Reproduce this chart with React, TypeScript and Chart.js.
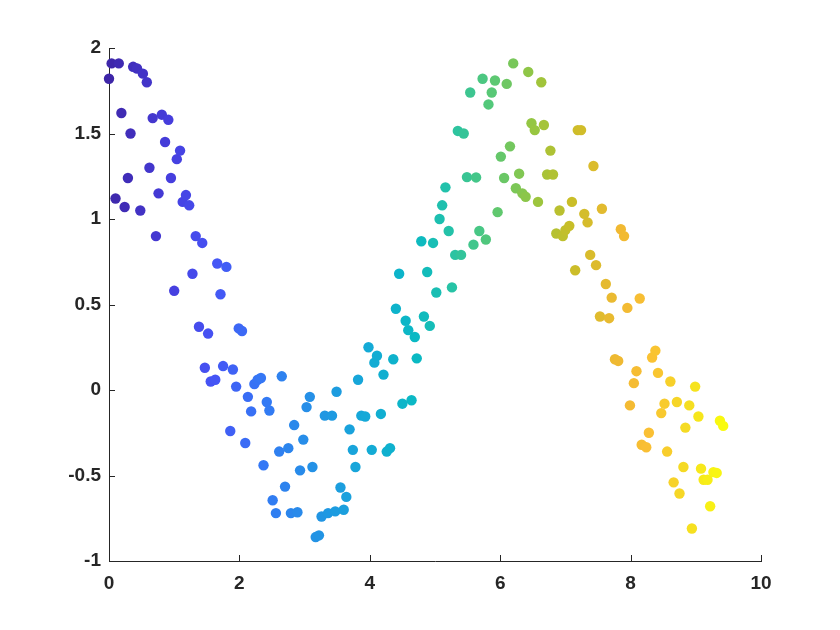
import React, { useEffect, useRef } from "react";
import { Chart, registerables } from "chart.js";

Chart.register(...registerables);

const xValues: number[] = [
  0.0, 0.04, 0.1, 0.15, 0.19, 0.24, 0.29, 0.33, 0.37, 0.43,
  0.48, 0.52, 0.58, 0.62, 0.67, 0.72, 0.76, 0.81, 0.86, 0.91,
  0.95, 1.0, 1.04, 1.09, 1.13, 1.18, 1.23, 1.28, 1.33, 1.38,
  1.43, 1.47, 1.52, 1.56, 1.63, 1.66, 1.71, 1.75, 1.8, 1.86,
  1.9, 1.95, 1.99, 2.04, 2.09, 2.13, 2.18, 2.23, 2.28, 2.33,
  2.37, 2.42, 2.46, 2.51, 2.56, 2.61, 2.65, 2.7, 2.75, 2.79,
  2.84, 2.89, 2.93, 2.98, 3.03, 3.08, 3.12, 3.17, 3.22, 3.26,
  3.31, 3.36, 3.42, 3.47, 3.49, 3.55, 3.6, 3.64, 3.69, 3.74,
  3.78, 3.82, 3.87, 3.93, 3.98, 4.03, 4.07, 4.11, 4.17, 4.21,
  4.26, 4.31, 4.36, 4.4, 4.45, 4.5, 4.55, 4.59, 4.64, 4.69,
  4.72, 4.79, 4.83, 4.88, 4.92, 4.97, 5.02, 5.07, 5.11, 5.16,
  5.21, 5.26, 5.31, 5.35, 5.4, 5.44, 5.49, 5.54, 5.59, 5.63,
  5.68, 5.73, 5.78, 5.82, 5.87, 5.92, 5.96, 6.01, 6.06, 6.1,
  6.15, 6.2, 6.24, 6.29, 6.34, 6.39, 6.43, 6.48, 6.53, 6.58,
  6.63, 6.67, 6.72, 6.77, 6.81, 6.86, 6.91, 6.96, 7.0, 7.06,
  7.1, 7.15, 7.19, 7.24, 7.29, 7.34, 7.38, 7.43, 7.47, 7.53,
  7.56, 7.62, 7.67, 7.71, 7.76, 7.81, 7.85, 7.9, 7.95, 7.99,
  8.05, 8.09, 8.14, 8.17, 8.24, 8.28, 8.33, 8.38, 8.42, 8.47,
  8.52, 8.56, 8.61, 8.66, 8.71, 8.75, 8.81, 8.84, 8.9, 8.94,
  8.99, 9.04, 9.08, 9.12, 9.18, 9.22, 9.27, 9.32, 9.37, 9.42,
];

const yValues: number[] = [
  1.82, 1.91, 1.12, 1.91, 1.62, 1.07, 1.24, 1.5, 1.89, 1.88,
  1.05, 1.85, 1.8, 1.3, 1.59, 0.9, 1.15, 1.61, 1.45, 1.58,
  1.24, 0.58, 1.35, 1.4, 1.1, 1.14, 1.08, 0.68, 0.9, 0.37,
  0.86, 0.13, 0.33, 0.05, 0.06, 0.74, 0.56, 0.14, 0.72, -0.24,
  0.12, 0.02, 0.36, 0.345, -0.31, -0.04, -0.125, 0.035, 0.06, 0.07,
  -0.44, -0.07, -0.12, -0.645, -0.72, -0.36, 0.08, -0.565, -0.34, -0.72,
  -0.205, -0.715, -0.47, -0.29, -0.1, -0.04, -0.45, -0.86, -0.85, -0.74,
  -0.15, -0.72, -0.15, -0.71, -0.01, -0.57, -0.7, -0.625, -0.23, -0.35,
  -0.45, 0.06, -0.15, -0.155, 0.25, -0.35, 0.16, 0.2, -0.14, 0.09,
  -0.36, -0.34, 0.18, 0.475, 0.68, -0.08, 0.405, 0.35, -0.06, 0.31,
  0.185, 0.87, 0.43, 0.69, 0.375, 0.86, 0.57, 1.0, 1.08, 1.185,
  0.93, 0.6, 0.79, 1.515, 0.79, 1.5, 1.245, 1.74, 0.85, 1.243,
  0.93, 1.82, 0.88, 1.67, 1.74, 1.81, 1.04, 1.365, 1.24, 1.79,
  1.425, 1.91, 1.18, 1.265, 1.15, 1.13, 1.86, 1.56, 1.52, 1.1,
  1.8, 1.55, 1.26, 1.4, 1.26, 0.915, 1.05, 0.9, 0.935, 0.96,
  1.1, 0.7, 1.52, 1.52, 1.03, 0.98, 0.79, 1.31, 0.73, 0.43,
  1.06, 0.62, 0.42, 0.54, 0.18, 0.17, 0.94, 0.9, 0.48, -0.09,
  0.04, 0.11, 0.535, -0.32, -0.335, -0.25, 0.19, 0.23, 0.1, -0.135,
  -0.08, -0.36, 0.05, -0.54, -0.07, -0.605, -0.45, -0.22, -0.09, -0.81,
  0.02, -0.155, -0.46, -0.525, -0.525, -0.68, -0.48, -0.485, -0.18, -0.21,
];

const xTicks: number[] = [0, 2, 4, 6, 8, 10];
const yTicks: number[] = [-1, -0.5, 0, 0.5, 1, 1.5, 2];

// parula-like colormap stops [t, r, g, b]
const cmapStops: number[][] = [
  [0.0, 62, 38, 168],
  [0.1, 70, 62, 222],
  [0.17, 70, 84, 245],
  [0.25, 52, 120, 245],
  [0.33, 36, 145, 230],
  [0.42, 20, 170, 215],
  [0.5, 10, 185, 195],
  [0.56, 40, 195, 165],
  [0.62, 85, 200, 120],
  [0.69, 150, 198, 65],
  [0.75, 200, 190, 40],
  [0.83, 240, 185, 50],
  [0.88, 250, 192, 52],
  [0.94, 245, 220, 35],
  [1.0, 249, 251, 14],
];

function cmap(t: number): string {
  const tt = Math.max(0, Math.min(1, t));
  for (let i = 0; i < cmapStops.length - 1; i++) {
    const a = cmapStops[i];
    const b = cmapStops[i + 1];
    if (tt >= a[0] && tt <= b[0]) {
      const f = (tt - a[0]) / (b[0] - a[0]);
      const r = Math.round(a[1] + (b[1] - a[1]) * f);
      const g = Math.round(a[2] + (b[2] - a[2]) * f);
      const bl = Math.round(a[3] + (b[3] - a[3]) * f);
      return `rgb(${r},${g},${bl})`;
    }
  }
  const l = cmapStops[cmapStops.length - 1];
  return `rgb(${l[1]},${l[2]},${l[3]})`;
}

const AXIS_COLOR = "#262626";
const TICK_FONT = { family: "'Liberation Sans', Arial, sans-serif", size: 19, weight: "bold" as const };

const inwardTicks = {
  id: "inwardTicks",
  afterDatasetsDraw(chart: any) {
    const ctx = chart.ctx;
    const xs = chart.scales.x;
    const ys = chart.scales.y;
    const area = chart.chartArea;
    ctx.save();
    ctx.strokeStyle = AXIS_COLOR;
    ctx.lineWidth = 1;
    ctx.beginPath();
    xTicks.forEach((v) => {
      const px = Math.round(xs.getPixelForValue(v)) + 0.5;
      ctx.moveTo(px, area.bottom);
      ctx.lineTo(px, area.bottom - 6);
    });
    yTicks.forEach((v) => {
      const py = Math.round(ys.getPixelForValue(v)) + 0.5;
      ctx.moveTo(area.left, py);
      ctx.lineTo(area.left + 6, py);
    });
    ctx.stroke();
    ctx.restore();
  },
};

export default function App() {
  const ref = useRef<HTMLCanvasElement | null>(null);

  useEffect(() => {
    if (!ref.current) return;
    const maxX = 3 * Math.PI;
    const data = xValues.map((x, i) => ({ x, y: yValues[i] }));
    const colors = xValues.map((x) => cmap(x / maxX));
    const chart = new Chart(ref.current, {
      type: "scatter",
      data: {
        datasets: [
          {
            data,
            backgroundColor: colors,
            borderWidth: 0,
            pointRadius: 5.2,
            pointHoverRadius: 5.2,
            clip: false,
          },
        ],
      },
      options: {
        responsive: false,
        animation: false,
        events: [],
        layout: { padding: { left: 0, right: 79, top: 48, bottom: 0 } },
        plugins: {
          legend: { display: false },
          tooltip: { enabled: false },
        },
        scales: {
          x: {
            type: "linear",
            min: 0,
            max: 10,
            afterFit: (s: any) => {
              s.height = 69;
            },
            afterBuildTicks: (s: any) => {
              s.ticks = xTicks.map((v) => ({ value: v }));
            },
            grid: { display: false, drawTicks: false },
            border: { display: true, color: AXIS_COLOR, width: 1 },
            ticks: {
              padding: 11,
              color: AXIS_COLOR,
              font: TICK_FONT,
              callback: (v: any) => String(v),
              maxRotation: 0,
            },
          },
          y: {
            type: "linear",
            min: -1,
            max: 2,
            afterFit: (s: any) => {
              s.width = 109;
            },
            afterBuildTicks: (s: any) => {
              s.ticks = yTicks.map((v) => ({ value: v }));
            },
            grid: { display: false, drawTicks: false },
            border: { display: true, color: AXIS_COLOR, width: 1 },
            ticks: {
              padding: 8,
              color: AXIS_COLOR,
              font: TICK_FONT,
              callback: (v: any) => String(v),
            },
          },
        },
      },
      plugins: [inwardTicks],
    });
    return () => chart.destroy();
  }, []);

  return (
    <div style={{ position: "fixed", left: 0, top: 0, width: 840, height: 630, background: "#fff" }}>
      <canvas ref={ref} width={840} height={630} style={{ width: 840, height: 630 }} />
    </div>
  );
}
